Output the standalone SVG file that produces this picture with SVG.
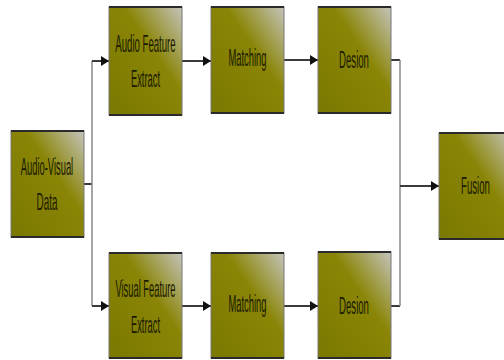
<svg xmlns="http://www.w3.org/2000/svg" width="504" height="360" viewBox="0 0 504 360">
<defs>
<linearGradient id="g" x1="1" y1="0" x2="0" y2="1">
<stop offset="0" stop-color="#c4c4bc"/>
<stop offset="0.4" stop-color="#8a8506"/>
<stop offset="1" stop-color="#7a7800"/>
</linearGradient>
<marker id="ah" markerWidth="8" markerHeight="10" refX="8" refY="5" orient="auto" markerUnits="userSpaceOnUse">
<path d="M0,0 L8,5 L0,10 Z" fill="#111"/>
</marker>
<style>
.box{fill:url(#g);stroke:#777;stroke-width:1}
.edge{stroke:#2a2a2a;stroke-width:2}
.t{font-family:"Liberation Sans",Arial,sans-serif;font-size:24px;fill:#1a1a00;text-anchor:middle}
.c{fill:none;stroke:#3a3a3a;stroke-width:2}
.v{fill:none;stroke:#888;stroke-width:1.5}
</style>
</defs>
<rect width="504" height="360" fill="#fff"/>
<g id="connectors">
<path class="c" d="M84,184 H92"/>
<path class="v" d="M92,61 V306"/>
<path class="c" d="M92,61 H109" marker-end="url(#ah)"/>
<path class="c" d="M92,306 H109" marker-end="url(#ah)"/>
<path class="c" d="M182,61 H211" marker-end="url(#ah)"/>
<path class="c" d="M284,60 H318" marker-end="url(#ah)"/>
<path class="c" d="M182,306 H211" marker-end="url(#ah)"/>
<path class="c" d="M284,306 H318" marker-end="url(#ah)"/>
<path class="c" d="M391,60 H400"/>
<path class="c" d="M391,306 H400"/>
<path class="v" d="M400,60 V306"/>
<path class="c" d="M400,186 H439" marker-end="url(#ah)"/>
</g>
<g id="av">
<rect class="box" x="11" y="131" width="73" height="106"/>
<path class="edge" d="M11,131 H84 M11,237 H84"/>
<text class="t" transform="translate(47,175) scale(0.39,1)">Audio-Visual</text>
<text class="t" transform="translate(47,210) scale(0.41,1)">Data</text>
</g>
<g id="afe">
<rect class="box" x="109" y="7" width="73" height="108"/>
<path class="edge" d="M109,7 H182 M109,115 H182"/>
<text class="t" transform="translate(145.5,52) scale(0.4,1)">Audio Feature</text>
<text class="t" transform="translate(145.5,87) scale(0.39,1)">Extract</text>
</g>
<g id="m1">
<rect class="box" x="211" y="7" width="73" height="106"/>
<path class="edge" d="M211,7 H284 M211,113 H284"/>
<text class="t" transform="translate(247.5,66) scale(0.39,1)">Matching</text>
</g>
<g id="d1">
<rect class="box" x="318" y="7" width="73" height="106"/>
<path class="edge" d="M318,7 H391 M318,113 H391"/>
<text class="t" transform="translate(354,68) scale(0.4,1)">Desion</text>
</g>
<g id="vfe">
<rect class="box" x="109" y="253" width="73" height="105"/>
<path class="edge" d="M109,253 H182 M109,358 H182"/>
<text class="t" transform="translate(145.5,297) scale(0.39,1)">Visual Feature</text>
<text class="t" transform="translate(145.5,333) scale(0.39,1)">Extract</text>
</g>
<g id="m2">
<rect class="box" x="211" y="253" width="73" height="105"/>
<path class="edge" d="M211,253 H284 M211,358 H284"/>
<text class="t" transform="translate(247.5,312) scale(0.39,1)">Matching</text>
</g>
<g id="d2">
<rect class="box" x="318" y="252" width="73" height="106"/>
<path class="edge" d="M318,252 H391 M318,358 H391"/>
<text class="t" transform="translate(354,314) scale(0.4,1)">Desion</text>
</g>
<g id="fusion">
<rect class="box" x="439" y="133" width="73" height="106"/>
<path class="edge" d="M439,133 H512 M439,239 H512"/>
<text class="t" transform="translate(475.5,194) scale(0.4,1)">Fusion</text>
</g>
</svg>
